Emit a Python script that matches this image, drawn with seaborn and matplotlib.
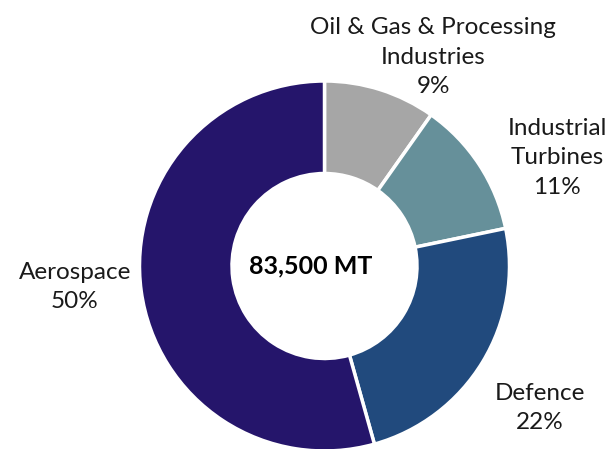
import matplotlib
matplotlib.use("Agg")
import matplotlib.pyplot as plt
import seaborn as sns

categories = ["Oil & Gas & Processing\nIndustries", "Industrial\nTurbines", "Defence", "Aerospace"]
shares = [9, 11, 22, 50]
total_label = "83,500 MT"
colors = ["#A6A6A6", "#66909A", "#214A7D", "#25156B"]

sns.set_theme(style="white")
plt.rcParams['font.family'] = ['Lato', 'DejaVu Sans']

W, H = 612, 449
fig = plt.figure(figsize=(W / 100, H / 100), dpi=100)
ax = fig.add_axes([0, 0, 1, 1])
R = 185.0
cx, cy = 324.5, 266.0

wedges, _ = ax.pie(shares, colors=colors, startangle=90, counterclock=False,
                   radius=1.0, wedgeprops=dict(width=0.5, edgecolor='white', linewidth=2.5))
ax.set_xlim(-cx / R, (W - cx) / R)
ax.set_ylim(-(H - cy) / R, cy / R)
ax.set_aspect('equal')
ax.axis('off')

def px(x, y):
    return (x - cx) / R, (cy - y) / R

label_pos = [(433, 57), (557, 158), (540, 408), (75, 287)]
for cat, val, (lx, ly) in zip(categories, shares, label_pos):
    ax.text(*px(lx, ly), f"{cat}\n{val}%", ha='center', va='center',
            fontsize=17.5, color='#1a1a1a', linespacing=1.5)

ax.text(*px(311, 266), total_label, ha='center', va='center', fontsize=18,
        fontweight='bold', color='black')

fig.savefig("out.png", dpi=100)
